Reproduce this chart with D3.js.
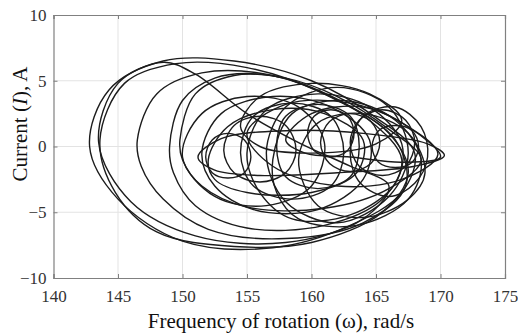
<!DOCTYPE html>
<html>
<head>
<meta charset="utf-8">
<script src="https://cdn.jsdelivr.net/npm/d3@7"></script>
<style>
  html, body { margin: 0; padding: 0; background: #fff; }
  svg { display: block; }
</style>
</head>
<body>
<svg id="chart" width="518" height="334"></svg>
<script>
// Axis settings
const xDomain = [140, 175];
const yDomain = [-10, 10];
const xTicks = [140, 145, 150, 155, 160, 165, 170, 175];
const yTicks = [-10, -5, 0, 5, 10];

// Phase trajectory loops, points as [omega (rad/s), current (A)]
const loopOuter1 = [[142.8,0],[144.3,4.3],[148.5,6.5],[154,6.5],[160,5],[165,2.2],[168,-0.5],[167,-3.5],[163,-6],[157,-7.7],[150,-7.2],[145,-4]];
const loopOuter2 = [[143.6,0.5],[145.5,4.8],[149.5,6.3],[155,6],[161,4],[166,1],[167.5,-2],[165.5,-5],[160,-7.3],[154,-7.6],[148,-6.5],[144.8,-3.5]];
const loopOuter3 = [[146.5,0.5],[148,4],[151.5,5.6],[157,5.4],[162,3.5],[166.5,0.5],[167.3,-3],[164,-5.8],[158,-7],[152,-6.3],[148.5,-4],[146.8,-1.5]];
const loopOuter4 = [[149,0],[150,3.5],[152.5,5.2],[156,5.5],[160,4.5],[164.5,2],[167,-1],[165.5,-4],[161,-6],[155,-6.2],[151,-4.5],[149.3,-2]];
const loopOuter5 = [[149.8,0.5],[151,4],[154,5.4],[158,5.2],[162,3.8],[166,1.3],[168.5,-1],[166,-3.2],[161,-4.7],[155,-4.6],[151.5,-3],[150,-1]];
const loopDiagonal = [[143.5,0.3],[145,4.8],[148.5,6.4],[151,5.5],[155,2.5],[159,0.3],[163,-1.5],[166,-3],[164,-5.5],[158,-7.3],[151,-6.8],[146,-4.2]];
const loopMid1 = [[151.5,-0.5],[153,2.5],[157,3.8],[161.5,3],[164.5,0.5],[164,-2.5],[160.5,-4.8],[155.5,-4.8],[152.5,-3]];
const loopMid2 = [[152,-1],[153.5,1.5],[157,2.8],[161,2.5],[164,0.5],[163.5,-2],[160,-3.5],[155,-3.5],[152.5,-2.5]];
const loopFlat = [[151.2,-0.8],[153,0.6],[158,1.2],[164,1.0],[169,0.2],[170.3,-0.7],[168,-1.5],[162,-2.0],[156,-2.2],[152.5,-1.8]];
const loopSmall1 = [[157.3,0],[158,2.3],[160.5,3.2],[163,2.3],[163.7,0],[163,-2.3],[160.5,-3.2],[158,-2.3]];
const loopSmall2 = [[160.7,0.3],[161.4,1.9],[163,2.5],[164.6,1.9],[165.3,0.3],[164.6,-1.3],[163,-1.9],[161.4,-1.3]];
const loopSmall3 = [[163,0.3],[163.7,2],[165.5,2.8],[167.3,2],[168,0.3],[167.3,-1.5],[165.5,-2.2],[163.7,-1.5]];
const loopSmall4 = [[153.2,-0.3],[154,1.6],[156,2.3],[158,1.6],[158.8,-0.3],[158,-2],[156,-2.7],[154,-2]];
const loopLower1 = [[155,-0.5],[156.5,2.8],[160.5,4],[164.5,3],[167,0.2],[166.5,-2.8],[163,-5.2],[158.5,-5.5],[156,-3.5]];
const loopLower2 = [[156.5,-0.5],[158,3],[162,4.5],[166,3],[167.5,-0.5],[166,-3.8],[162,-5.8],[158,-4.2]];
const loopUpper = [[154.5,1.5],[156,3.8],[160,4.8],[164.5,4],[167,2],[165,0.2],[160,-0.5],[156,0]];
const loopSmall5 = [[154.5,-0.5],[155.5,2.3],[158.5,3.3],[161.5,2.3],[162.5,-0.5],[161.5,-3],[158.5,-4],[155.5,-3]];
const loopRight = [[163,-0.5],[164,2.3],[166.5,3],[168.5,1.5],[169,-0.8],[168,-2.8],[166,-3.8],[163.8,-2.8]];
const loopLower3 = [[157,-1],[158.5,2.5],[162.5,3.5],[166.5,2],[168.5,-1],[167.5,-4],[163.5,-6],[159,-5.5],[157.3,-3.5]];
const loopLeftMid = [[150,-0.8],[151.5,2.5],[155,3.8],[159,3],[161,0.3],[160,-3],[156.5,-4.5],[152.5,-3.8]];
const loopTip1 = [[158,0.5],[160,2.5],[164,3],[167.5,1.5],[170,-0.8],[167,-1.2],[163,-0.8],[159.5,-0.5]];
const loopTip2 = [[155,1],[158,3.2],[163,3.3],[167,1.8],[169.8,-0.6],[167,-2.5],[162,-3],[157,-1.5]];
const loopSmall6 = [[159.7,1],[160.2,2.3],[161.5,2.8],[162.8,2.3],[163.3,1],[162.8,-0.3],[161.5,-0.8],[160.2,-0.3]];
const loopSmall7 = [[164.7,0],[165.2,1.2],[166.5,1.6],[167.8,1.2],[168.3,0],[167.8,-1.2],[166.5,-1.6],[165.2,-1.2]];
const loopLowRight = [[159,-1],[160.5,1.8],[164,2.5],[167.5,1],[168.8,-2],[167.4,-4.1],[164,-5.4],[160.5,-4.5]];
const loopSmall8 = [[151.8,-0.8],[152.3,0.5],[153.5,1],[154.8,0.5],[155.3,-0.8],[154.8,-2],[153.5,-2.4],[152.3,-2]];

const loops = [loopOuter1, loopOuter2, loopOuter3, loopOuter4, loopOuter5, loopDiagonal,
  loopMid1, loopMid2, loopFlat, loopSmall1, loopSmall2, loopSmall3, loopSmall4,
  loopLower1, loopLower2, loopUpper, loopSmall5, loopRight, loopLower3, loopLeftMid,
  loopTip1, loopTip2, loopSmall6, loopSmall7, loopLowRight, loopSmall8];

const svg = d3.select("#chart");
const m = { left: 53.5, right: 505, top: 15, bottom: 278 };
const x = d3.scaleLinear().domain(xDomain).range([m.left, m.right]);
const y = d3.scaleLinear().domain(yDomain).range([m.bottom, m.top]);
const font = "'Liberation Serif', 'Times New Roman', serif";

// grid
const grid = svg.append("g");
grid.selectAll(".gx").data(xTicks.slice(1, -1)).join("line")
  .attr("x1", d => x(d)).attr("x2", d => x(d))
  .attr("y1", m.top).attr("y2", m.bottom)
  .attr("stroke", "#e3e3e3").attr("stroke-width", 1);
grid.selectAll(".gy").data(yTicks.slice(1, -1)).join("line")
  .attr("x1", m.left).attr("x2", m.right)
  .attr("y1", d => y(d)).attr("y2", d => y(d))
  .attr("stroke", "#e3e3e3").attr("stroke-width", 1);

// trajectory
const line = d3.line().x(d => x(d[0])).y(d => y(d[1]))
  .curve(d3.curveCatmullRomClosed.alpha(0.5));
svg.append("g").selectAll("path").data(loops).join("path")
  .attr("d", line)
  .attr("fill", "none")
  .attr("stroke", "#1c1c1c")
  .attr("stroke-width", 1.4);

// axes (box with inward ticks)
const axisColor = "#808080";
const axBottom = d3.axisBottom(x).tickValues(xTicks).tickSize(-4).tickPadding(12);
const axLeft = d3.axisLeft(y).tickValues(yTicks).tickSize(-4).tickPadding(7);
const axTop = d3.axisTop(x).tickValues(xTicks).tickSize(-4).tickFormat("");
const axRight = d3.axisRight(y).tickValues(yTicks).tickSize(-4).tickFormat("");

function styleAxis(g) {
  g.select(".domain").attr("stroke", axisColor).attr("stroke-width", 1.2);
  g.selectAll(".tick line").attr("stroke", axisColor);
  g.selectAll(".tick text").attr("fill", "#333").style("font-family", font).style("font-size", "17px");
}
svg.append("g").attr("transform", `translate(0,${m.bottom})`).call(axBottom).call(styleAxis);
svg.append("g").attr("transform", `translate(${m.left},0)`).call(axLeft).call(styleAxis);
svg.append("g").attr("transform", `translate(0,${m.top})`).call(axTop).call(styleAxis);
svg.append("g").attr("transform", `translate(${m.right},0)`).call(axRight).call(styleAxis);

// axis titles
svg.append("text")
  .attr("x", 281).attr("y", 328)
  .attr("text-anchor", "middle")
  .style("font-family", font).style("font-size", "21px").attr("fill", "#111")
  .text("Frequency of rotation (ω), rad/s");

const yt = svg.append("text")
  .attr("transform", `translate(27,124) rotate(-90)`)
  .attr("text-anchor", "middle")
  .style("font-family", font).style("font-size", "21px").attr("fill", "#111");
yt.append("tspan").text("Current (");
yt.append("tspan").style("font-style", "italic").text("I");
yt.append("tspan").text("), A");
</script>
</body>
</html>
